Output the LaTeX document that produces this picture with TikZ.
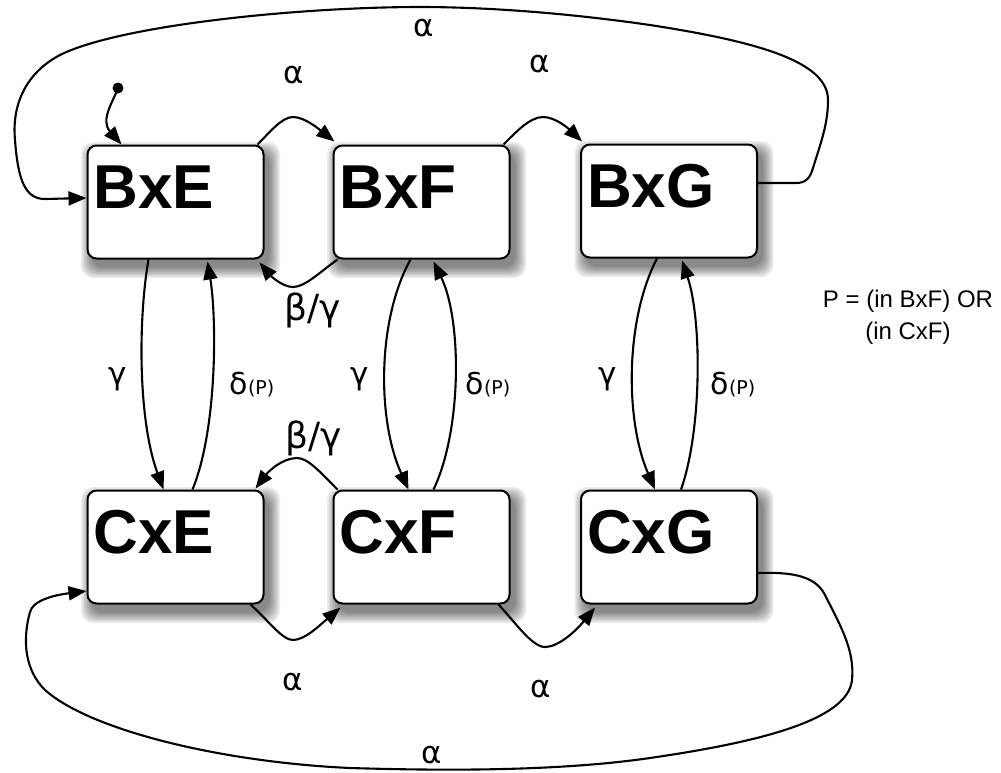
\documentclass[tikz,border=0pt]{standalone}
\usepackage{fontspec}
\setmainfont{Liberation Sans}
\newfontfamily\gk{DejaVu Sans}
\usetikzlibrary{arrows.meta,backgrounds,calc}
\begin{document}
\begin{tikzpicture}[x=1pt,y=-1pt,
  box/.style={draw, line width=2pt, rounded corners=9pt, fill=white,
    inner xsep=6pt, inner ysep=0pt, text width=164pt, align=left,
    text height=63pt, text depth=50pt,
    font=\fontsize{62}{62}\selectfont\bfseries},
  conn/.style={line width=2.1pt, -{Triangle[length=18pt,width=14pt]}},
  glab/.style={font=\gk\fontsize{31}{31}\selectfont, inner sep=0pt},
  blab/.style={font=\gk\fontsize{36}{36}\selectfont, inner sep=0pt},
  dlab/.style={font=\gk\fontsize{30}{30}\selectfont, inner sep=0pt},
  shadowlayer/.style={fill=black, opacity=0.075, rounded corners=12pt}
]
\useasboundingbox (0,0) rectangle (1001,772);

% boxes
\node[box] (BxE) at (175.5,202) {BxE};
\node[box] (BxF) at (421.5,202) {BxF};
\node[box] (BxG) at (669,201) {BxG};
\node[box] (CxE) at (175.5,547) {CxE};
\node[box] (CxF) at (421.5,547) {CxF};
\node[box] (CxG) at (669,547) {CxG};

% shadows
\begin{pgfonlayer}{background}
\foreach \n in {BxE,BxF,BxG,CxE,CxF,CxG}{
  \foreach \e in {0,1.5,...,10.5}{
    \fill[shadowlayer] ([shift={(5pt-\e pt,-8pt-\e pt)}]\n.south west) rectangle ([shift={(5pt+\e pt,-8pt+\e pt)}]\n.north east);
  }
}
\end{pgfonlayer}

% initial
\coordinate (init) at (118,88);
\fill (init) circle (5.5pt);
\draw[conn] (init) .. controls (113,102) and (100,120) .. ([xshift=35pt]BxE.north west);

% top alphas
\draw[conn] ([xshift=-7pt]BxE.north east) .. controls (270,132) and (282,117) .. (293,117)
  .. controls (305,117) and (320,130) .. ([xshift=2pt,yshift=3pt]BxF.north west);
\draw[conn] ([xshift=-7pt]BxF.north east) .. controls (516,132) and (530,117) .. (543,117)
  .. controls (556,117) and (570,130) .. ([xshift=2pt,yshift=2pt]BxG.north west);

% big top loop
\draw[conn] ([yshift=18pt]BxG.east) -- (796,183) .. controls (806,183) and (810,178) .. (813,168)
  .. controls (820,145) and (828,125) .. (828,100)
  .. controls (828,62) and (760,42) .. (650,25)
  .. controls (560,12) and (480,7) .. (420,7)
  .. controls (300,7) and (120,25) .. (60,55)
  .. controls (22,75) and (12,110) .. (15,140)
  .. controls (18,180) and (25,199) .. (45,199)
  -- ([yshift=4pt]BxE.west);

% beta/gamma
\draw[conn] ([xshift=5pt]BxF.south west) .. controls (320,272) and (305,287) .. (293,287)
  .. controls (282,287) and (270,275) .. ([xshift=-5pt,yshift=-3pt]BxE.south east);
\draw[conn] ([xshift=5pt]CxF.north west) .. controls (320,472) and (308,458) .. (297,458)
  .. controls (282,458) and (268,472) .. ([xshift=-9pt,yshift=1pt]CxE.north east);

% verticals
\draw[conn] ([xshift=-27pt]BxE.south) .. controls (138,320) and (138,420) .. ([xshift=-12pt]CxE.north);
\draw[conn] ([xshift=17pt]CxE.north) .. controls (217,430) and (217,320) .. ([xshift=32pt,yshift=-2pt]BxE.south);
\draw[conn] ([xshift=-11pt]BxF.south) .. controls (377,320) and (377,420) .. ([xshift=-13pt]CxF.north);
\draw[conn] ([xshift=12pt]CxF.north) .. controls (462,430) and (462,320) .. ([xshift=12pt,yshift=-2pt]BxF.south);
\draw[conn] ([xshift=-12pt]BxG.south) .. controls (625,320) and (625,420) .. ([xshift=-14pt]CxG.north);
\draw[conn] ([xshift=12pt]CxG.north) .. controls (702,430) and (702,320) .. ([xshift=13pt,yshift=-2pt]BxG.south);

% bottom alphas
\draw[conn] ([xshift=-14pt]CxE.south east) .. controls (268,620) and (282,640) .. (293,640)
  .. controls (305,640) and (320,625) .. ([xshift=8pt,yshift=-3pt]CxF.south west);
\draw[conn] ([xshift=-12pt]CxF.south east) .. controls (515,622) and (532,647) .. (545,647)
  .. controls (558,647) and (575,632) .. ([xshift=15pt,yshift=-3pt]CxG.south west);

% big bottom loop
\draw[conn] ([yshift=-26pt]CxG.east) .. controls (790,572) and (815,575) .. (825,595)
  .. controls (840,625) and (855,650) .. (852,680)
  .. controls (848,720) and (760,742) .. (650,758)
  .. controls (560,771) and (450,771) .. (350,768)
  .. controls (220,762) and (90,730) .. (45,690)
  .. controls (20,665) and (25,630) .. (30,612)
  .. controls (33,600) and (55,595) .. ([yshift=-44pt]CxE.west);

% labels
\node[glab] (la1) at (424,28) {α};
\node[glab] (la2) at (294,75) {α};
\node[glab] (la3) at (540,64) {α};
\node[blab] (lbg1) at (313,310) {β/γ};
\node[blab] (lbg2) at (314,438) {β/γ};
\node[glab] (lg1) at (118,379) {γ};
\node[glab] (lg2) at (360,379) {γ};
\node[glab] (lg3) at (608,379) {γ};
\node[dlab] (ld1) at (252,385) {δ{\fontsize{19}{19}\selectfont(P)}};
\node[dlab] (ld2) at (488,385) {δ{\fontsize{19}{19}\selectfont(P)}};
\node[dlab] (ld3) at (733,385) {δ{\fontsize{19}{19}\selectfont(P)}};
\node[glab] (la4) at (293,682) {α};
\node[glab] (la5) at (541,689) {α};
\node[glab] (la6) at (432,755) {α};
\node[font=\fontsize{24}{32}\selectfont, align=center, inner sep=0pt] (ptext) at (908,317) {P = (in BxF) OR\\(in CxF)};
\end{tikzpicture}
\end{document}
